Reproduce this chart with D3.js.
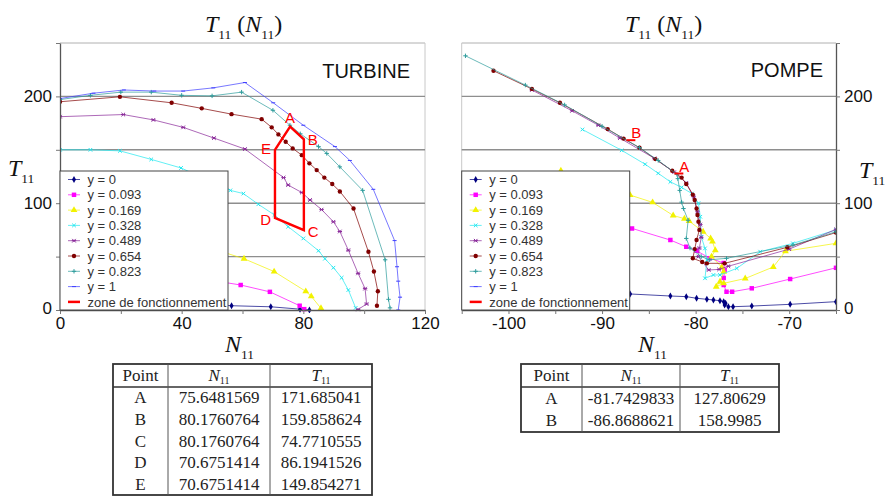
<!DOCTYPE html>
<html lang="en">
<head>
<meta charset="UTF-8">
<title>T11(N11) turbine / pompe</title>
<style>
  body { margin: 0; background: #fff; }
</style>
</head>
<body>
<div id="chart"></div>
<script src="https://d3js.org/d3.v7.min.js"></script>
<script>

// ---------- data ----------
const seriesLabels = ["y = 0", "y = 0.093", "y = 0.169", "y = 0.328", "y = 0.489", "y = 0.654", "y = 0.823", "y = 1"];
const seriesColors = ["#000080", "#ff00ff", "#f2f200", "#22e8f0", "#8a2a9a", "#800000", "#2e9c9c", "#3f3fff"];
const seriesMarkers = ["diamond", "square", "triangle", "x", "asterisk", "circle", "plus", "dash"];

// turbine side, [N11, T11]
const turbine_y0   = [[40,7],[56.4,4],[69.3,3],[78.9,0.8],[82,0]];
const turbine_y093 = [[45,30],[59.4,23.4],[69,17],[78.8,4],[80.3,0.8]];
const turbine_y169 = [[45,62],[60.5,48],[70.4,36],[80.8,17.5],[82.6,12.8],[85.8,1.6]];
const turbine_y328 = [[0,150],[10,150],[19.7,149],[30,141],[39.8,133],[56,112],[60.3,109],[65.2,99],[70.5,89],[75,78],[80,67],[85,55.5],[87.1,48],[89.9,39.6],[92.6,30.2],[94.8,18.7],[97.2,2]];
const turbine_y489 = [[0,181],[20.8,183],[30.7,178],[40.5,171],[50.6,161],[60.8,150.7],[73.5,124],[75,117],[79.5,110],[82.2,103],[86,94],[89.9,82.6],[92,73.5],[94.8,56],[98,34.3],[100.3,20],[100.8,5.6],[98,0.5]];
const turbine_y654 = [[0,195],[19.7,199.6],[36.7,194],[46.6,188.8],[56.4,183.4],[66.3,178.7],[69.6,171],[71.8,164.4],[74.2,157.5],[76.5,151.3],[79.5,145],[82,137.3],[84.4,131],[86.9,124],[89.5,118],[92,111],[96.5,95],[101.4,54.5],[103.2,36],[104.5,17.5],[104.2,4]];
const turbine_y823 = [[0,197],[10,201],[20,204],[30,204],[40,201],[50,200.5],[59.7,204],[70,187],[75.6,173],[79,165],[85,153],[87.7,146.6],[92,134],[99.5,112],[106.9,47],[108,10],[108.5,2]];
const turbine_y1   = [[0,198],[11,203],[21,206],[31,205],[40.5,205],[50.4,208],[60.8,213],[70.1,194],[80,173],[90.4,153],[95.3,140],[103,113],[110,65],[110.8,40.5],[111.2,27],[111.8,12],[111.2,0]];

// pompe side, [N11, T11]
const pompe_y0   = [[-87,15],[-82.7,13.1],[-81,12.5],[-79.9,11],[-78.8,10],[-78.1,9.4],[-77.4,8.7],[-77,7.8],[-76.8,6.3],[-76.9,4.7],[-76.5,3.1],[-76,3.1],[-74,3.7],[-69.9,5.3],[-65,7.8]];
const pompe_y093 = [[-86.8,76.4],[-82.7,65.5],[-81,59.2],[-79.9,55.5],[-78.5,48.5],[-77,44],[-76.9,37.5],[-77,30],[-77,23.4],[-76.7,17.1],[-76.1,17.1],[-74,20.3],[-69.9,29],[-65,39.5]];
const pompe_y169 = [[-94.4,130.4],[-87,107.6],[-84.6,100.8],[-82.4,88.5],[-81.2,85.5],[-80.7,83.3],[-79.2,73.3],[-78.4,67],[-78.2,64],[-77.9,56],[-78.3,50],[-77.2,40],[-77,35.8],[-77.4,26.5],[-77.8,21.8],[-77,25],[-74.7,29.5],[-71.7,40.3],[-70.4,55],[-65,62.4]];
const pompe_y328 = [[-92.1,169],[-87.9,149.5],[-85.4,136.5],[-84,128],[-82.7,120],[-81.5,114.8],[-80.4,109],[-79.7,100],[-79.5,87.3],[-79.4,68.6],[-79,57.7],[-78.8,46.8],[-79,29.7],[-78.1,32.8],[-77.4,32.8],[-75.6,39],[-73.1,54.6],[-69.6,62.4],[-65,75]];
const pompe_y489 = [[-97.5,206],[-93.2,186.5],[-90.4,173],[-88.1,161],[-84.4,142],[-82.3,129],[-81,119],[-80.2,106],[-79.8,92],[-79.5,80],[-79.4,68],[-79.6,58],[-79.7,50],[-78.6,37.5],[-77.5,38],[-76.5,41],[-70,57],[-65,75.5]];
const pompe_y654 = [[-101.6,224],[-97.5,207],[-94.5,194],[-89.4,169.4],[-87.7,160.5],[-86,152],[-84.3,141.3],[-82.5,130.4],[-81.5,124],[-81,118],[-80.3,108],[-80.1,103],[-79.9,95],[-79.8,89],[-79.7,82.6],[-79.6,75],[-79.9,65.5],[-80.1,57],[-80.3,48.4],[-79.3,45],[-78.8,43.7],[-76.9,43.7],[-70.2,58.7],[-65,72.5]];
const pompe_y823 = [[-104.6,238],[-98.2,210.6],[-94,192],[-90,172],[-86,152],[-84,140],[-82,127],[-81.9,123],[-81.7,112],[-81.5,101],[-81.3,95],[-80.8,84],[-81,67],[-80.6,58],[-79.4,50],[-78.5,47],[-76.7,48.4],[-69.6,60.8],[-65,73.3]];
const pompe_y1   = [];

const turbineSeries = [turbine_y0, turbine_y093, turbine_y169, turbine_y328, turbine_y489, turbine_y654, turbine_y823, turbine_y1];
const pompeSeries = [pompe_y0, pompe_y093, pompe_y169, pompe_y328, pompe_y489, pompe_y654, pompe_y823, pompe_y1];

// zone de fonctionnement
const zoneTurbineNames = ["A", "B", "C", "D", "E"];
const zoneTurbineN = [75.6481569, 80.1760764, 80.1760764, 70.6751414, 70.6751414];
const zoneTurbineT = [171.685041, 159.858624, 74.7710555, 86.1941526, 149.854271];
const zonePompeNames = ["A", "B"];
const zonePompeN = [-81.7429833, -86.8688621];
const zonePompeT = [127.80629, 158.9985];

const yTicks = [0, 50, 100, 150, 200, 250];
const turbineXTicks = [0, 20, 40, 60, 80, 100, 120];
const pompeXTicks = [-105, -100, -95, -90, -85, -80, -75, -70, -65];

// ---------- page ----------
const width = 889, height = 497;
const sans = "'Liberation Sans', Arial, sans-serif";
const serif = "'Liberation Serif', 'Times New Roman', serif";

const svg = d3.select("#chart").append("svg")
    .attr("width", width).attr("height", height)
    .style("display", "block");

const y = d3.scaleLinear().domain([0, 250]).range([310, 43]);
const xTurb = d3.scaleLinear().domain([0, 120]).range([60, 425]);
const xPomp = d3.scaleLinear().domain([-105, -65]).range([461.7, 836]);

// draw a marker at (0,0) inside g
function marker(g, type, color) {
    if (type === "diamond") g.append("path").attr("d", d3.symbol(d3.symbolDiamond, 14)()).attr("fill", color);
    else if (type === "square") g.append("path").attr("d", d3.symbol(d3.symbolSquare, 20)()).attr("fill", color);
    else if (type === "triangle") g.append("path").attr("d", d3.symbol(d3.symbolTriangle, 20)()).attr("fill", color);
    else if (type === "circle") g.append("path").attr("d", d3.symbol(d3.symbolCircle, 15)()).attr("fill", color);
    else {
        let d = "M-2,0H2";
        if (type === "x") d = "M-1.8,-1.8L1.8,1.8M-1.8,1.8L1.8,-1.8";
        if (type === "plus") d = "M-2.2,0H2.2M0,-2.2V2.2";
        if (type === "asterisk") d = "M-1.8,-1.8L1.8,1.8M-1.8,1.8L1.8,-1.8M-2.2,0H2.2";
        g.append("path").attr("d", d).attr("stroke", color).attr("stroke-width", 1).attr("fill", "none");
    }
}

// italic serif letter with upright subscript
function mathText(x, yy, size, parts, anchor) {
    const t = svg.append("text").attr("x", x).attr("y", yy)
        .attr("font-family", serif).attr("font-size", size)
        .attr("text-anchor", anchor || "start")
        .style("white-space", "pre").attr("fill", "#111");
    let shift = 0;
    parts.forEach(([s, k]) => {
        const target = k === "s" ? size * 0.3 : 0;
        t.append("tspan").text(s)
            .attr("dy", target - shift)
            .attr("font-size", k === "s" ? size * 0.56 : size)
            .attr("font-style", k === "i" ? "italic" : "normal");
        shift = target;
    });
    return t;
}

function drawPanel(x, series, clipId, side) {
    const [x0, x1] = x.range();
    const g = svg.append("g");

    // frame + grid
    g.append("line").attr("x1", x0).attr("x2", x1).attr("y1", y(250)).attr("y2", y(250))
        .attr("stroke", "#b0b0b0").attr("stroke-width", 1);
    const farX = side === "left" ? x1 : x0;
    g.append("line").attr("x1", farX).attr("x2", farX).attr("y1", y(250)).attr("y2", y(0))
        .attr("stroke", "#c8c8c8").attr("stroke-width", 1);
    g.selectAll(".grid").data([50, 100, 150, 200]).join("line")
        .attr("x1", x0).attr("x2", x1)
        .attr("y1", d => y(d)).attr("y2", d => y(d))
        .attr("stroke", "#8e8e8e").attr("stroke-width", 1.4);

    svg.append("clipPath").attr("id", clipId).append("rect")
        .attr("x", x0).attr("y", y(250)).attr("width", x1 - x0).attr("height", y(0) - y(250) + 3);

    const plot = g.append("g").attr("clip-path", `url(#${clipId})`);
    const line = d3.line().x(d => x(d[0])).y(d => y(d[1]));

    series.forEach((data, i) => {
        if (!data.length) return;
        plot.append("path").datum(data)
            .attr("d", line)
            .attr("fill", "none")
            .attr("stroke", seriesColors[i])
            .attr("stroke-opacity", 0.7)
            .attr("stroke-width", 1);
        plot.selectAll(null).data(data).join("g")
            .attr("transform", d => `translate(${x(d[0])},${y(d[1])})`)
            .each(function () { marker(d3.select(this), seriesMarkers[i], seriesColors[i]); });
    });

    // axes
    const xAxis = g.append("g").attr("transform", `translate(0,${y(0)})`)
        .call(d3.axisBottom(x)
            .tickValues(side === "left" ? turbineXTicks : pompeXTicks)
            .tickFormat(d => d % (side === "left" ? 40 : 10) === 0 ? d : "")
            .tickSize(4).tickSizeOuter(0).tickPadding(3));
    const yAxisGen = side === "left" ? d3.axisLeft(y) : d3.axisRight(y);
    const yAxis = g.append("g").attr("transform", `translate(${side === "left" ? x0 : x1},0)`)
        .call(yAxisGen.tickValues(yTicks)
            .tickFormat(d => (d % 100 === 0 && d < 250) ? d : "")
            .tickSize(4).tickSizeOuter(0).tickPadding(4));
    [xAxis, yAxis].forEach(a => {
        a.select(".domain").attr("stroke", "#555").attr("stroke-width", 1.3);
        a.selectAll(".tick line").attr("stroke", "#777");
        a.selectAll("text").attr("font-family", sans).attr("font-size", 17).attr("fill", "#111");
    });
    yAxis.select(".tick:first-of-type text").attr("dy", "0.2em");
    return g;
}

function drawLegend(bx, by) {
    const lg = svg.append("g").attr("transform", `translate(${bx},${by})`);
    lg.append("rect").attr("width", 168).attr("height", 139)
        .attr("fill", "#fff").attr("stroke", "#444").attr("stroke-width", 1);
    const rows = seriesLabels.concat(["zone de fonctionnement"]);
    rows.forEach((label, i) => {
        const cy = 8.5 + i * 15.3;
        const row = lg.append("g").attr("transform", `translate(0,${cy})`);
        if (i < seriesLabels.length) {
            row.append("line").attr("x1", 8).attr("x2", 20).attr("stroke", seriesColors[i])
                .attr("stroke-opacity", 0.7);
            const m = row.append("g").attr("transform", "translate(14,0)");
            marker(m, seriesMarkers[i], seriesColors[i]);
        } else {
            row.append("line").attr("x1", 8).attr("x2", 20).attr("stroke", "#ff0000").attr("stroke-width", 2.5);
        }
        row.append("text").attr("x", 27.5).attr("y", 4.6)
            .attr("font-family", sans).attr("font-size", 13).attr("fill", "#333")
            .text(label);
    });
}

// ---------- turbine ----------
drawPanel(xTurb, turbineSeries, "clipT", "left");

const zonePts = zoneTurbineN.map((n, i) => [xTurb(n), y(zoneTurbineT[i])]);
svg.append("path")
    .attr("d", d3.line()(zonePts) + "Z")
    .attr("fill", "none").attr("stroke", "#ff0000").attr("stroke-width", 2.4)
    .attr("stroke-linejoin", "miter");
const zoneLabelOffset = { A: [0, -4, "middle"], B: [4, 6, "start"], C: [4, 7, "start"], D: [-4, 7, "end"], E: [-4, 4, "end"] };
zoneTurbineNames.forEach((nm, i) => {
    const o = zoneLabelOffset[nm];
    svg.append("text").attr("x", zonePts[i][0] + o[0]).attr("y", zonePts[i][1] + o[1])
        .attr("text-anchor", o[2]).attr("font-family", sans).attr("font-size", 15)
        .attr("fill", "#ff0000").text(nm);
});

svg.append("text").attr("x", 410).attr("y", 78).attr("text-anchor", "end")
    .attr("font-family", sans).attr("font-size", 20).attr("fill", "#111").text("TURBINE");
drawLegend(60, 171);

// ---------- pompe ----------
drawPanel(xPomp, pompeSeries, "clipP", "right");

zonePompeNames.forEach((nm, i) => {
    const px = xPomp(zonePompeN[i]), py = y(zonePompeT[i]);
    svg.append("line").attr("x1", px - 5).attr("x2", px + 4).attr("y1", py).attr("y2", py)
        .attr("stroke", "#ff0000").attr("stroke-width", 2);
    svg.append("text").attr("x", px).attr("y", py - 2)
        .attr("font-family", sans).attr("font-size", 15).attr("fill", "#ff0000").text(nm);
});

svg.append("text").attr("x", 823).attr("y", 77).attr("text-anchor", "end")
    .attr("font-family", sans).attr("font-size", 20).attr("fill", "#111").text("POMPE");
drawLegend(461.7, 171);

// ---------- axis titles ----------
const titleParts = [["T", "i"], ["11", "s"], [" (", "n"], ["N", "i"], ["11", "s"], [")", "n"]];
mathText(205, 31.5, 24, titleParts);
mathText(625, 31.5, 24, titleParts);
mathText(8, 176, 24, [["T", "i"], ["11", "s"]]);
mathText(859, 178, 24, [["T", "i"], ["11", "s"]]);
mathText(225, 352, 24, [["N", "i"], ["11", "s"]]);
mathText(638, 352, 24, [["N", "i"], ["11", "s"]]);

// ---------- tables ----------
function drawTable(cols, top, headH, rowH, names, ns, ts) {
    const tg = svg.append("g");
    const nRows = names.length;
    const bottom = top + headH + nRows * rowH;
    const fs = 17;
    tg.append("rect").attr("x", cols[0]).attr("y", top)
        .attr("width", cols[3] - cols[0]).attr("height", bottom - top)
        .attr("fill", "#fff").attr("stroke", "#333").attr("stroke-width", 1.8);
    tg.append("line").attr("x1", cols[0]).attr("x2", cols[3]).attr("y1", top + headH).attr("y2", top + headH)
        .attr("stroke", "#333").attr("stroke-width", 1.3);
    [cols[1], cols[2]].forEach(cx => tg.append("line").attr("x1", cx).attr("x2", cx)
        .attr("y1", top).attr("y2", bottom).attr("stroke", "#555").attr("stroke-width", 1));
    const mid = i => (cols[i] + cols[i + 1]) / 2;
    const hy = top + headH / 2 + 5.5;
    tg.append("text").attr("x", mid(0)).attr("y", hy).attr("text-anchor", "middle")
        .attr("font-family", serif).attr("font-size", fs).attr("fill", "#222").text("Point");
    const nh = tg.append("text").attr("x", mid(1)).attr("y", hy).attr("text-anchor", "middle")
        .attr("font-family", serif).attr("font-size", fs).attr("fill", "#222");
    nh.append("tspan").text("N").attr("font-style", "italic");
    nh.append("tspan").text("11").attr("font-size", 10).attr("dy", 3);
    const th = tg.append("text").attr("x", mid(2)).attr("y", hy).attr("text-anchor", "middle")
        .attr("font-family", serif).attr("font-size", fs).attr("fill", "#222");
    th.append("tspan").text("T").attr("font-style", "italic");
    th.append("tspan").text("11").attr("font-size", 10).attr("dy", 3);
    names.forEach((nm, i) => {
        const ry = top + headH + i * rowH + rowH / 2 + 5.5;
        [nm, String(ns[i]), String(ts[i])].forEach((s, c) => {
            tg.append("text").attr("x", mid(c)).attr("y", ry).attr("text-anchor", "middle")
                .attr("font-family", serif).attr("font-size", fs).attr("fill", "#222").text(s);
        });
    });
}

drawTable([113, 168, 270, 372], 364, 23, 21.6, zoneTurbineNames, zoneTurbineN, zoneTurbineT);
drawTable([521, 582, 680, 779], 364, 23, 22.5, zonePompeNames, zonePompeN, zonePompeT);

</script>
</body>
</html>
